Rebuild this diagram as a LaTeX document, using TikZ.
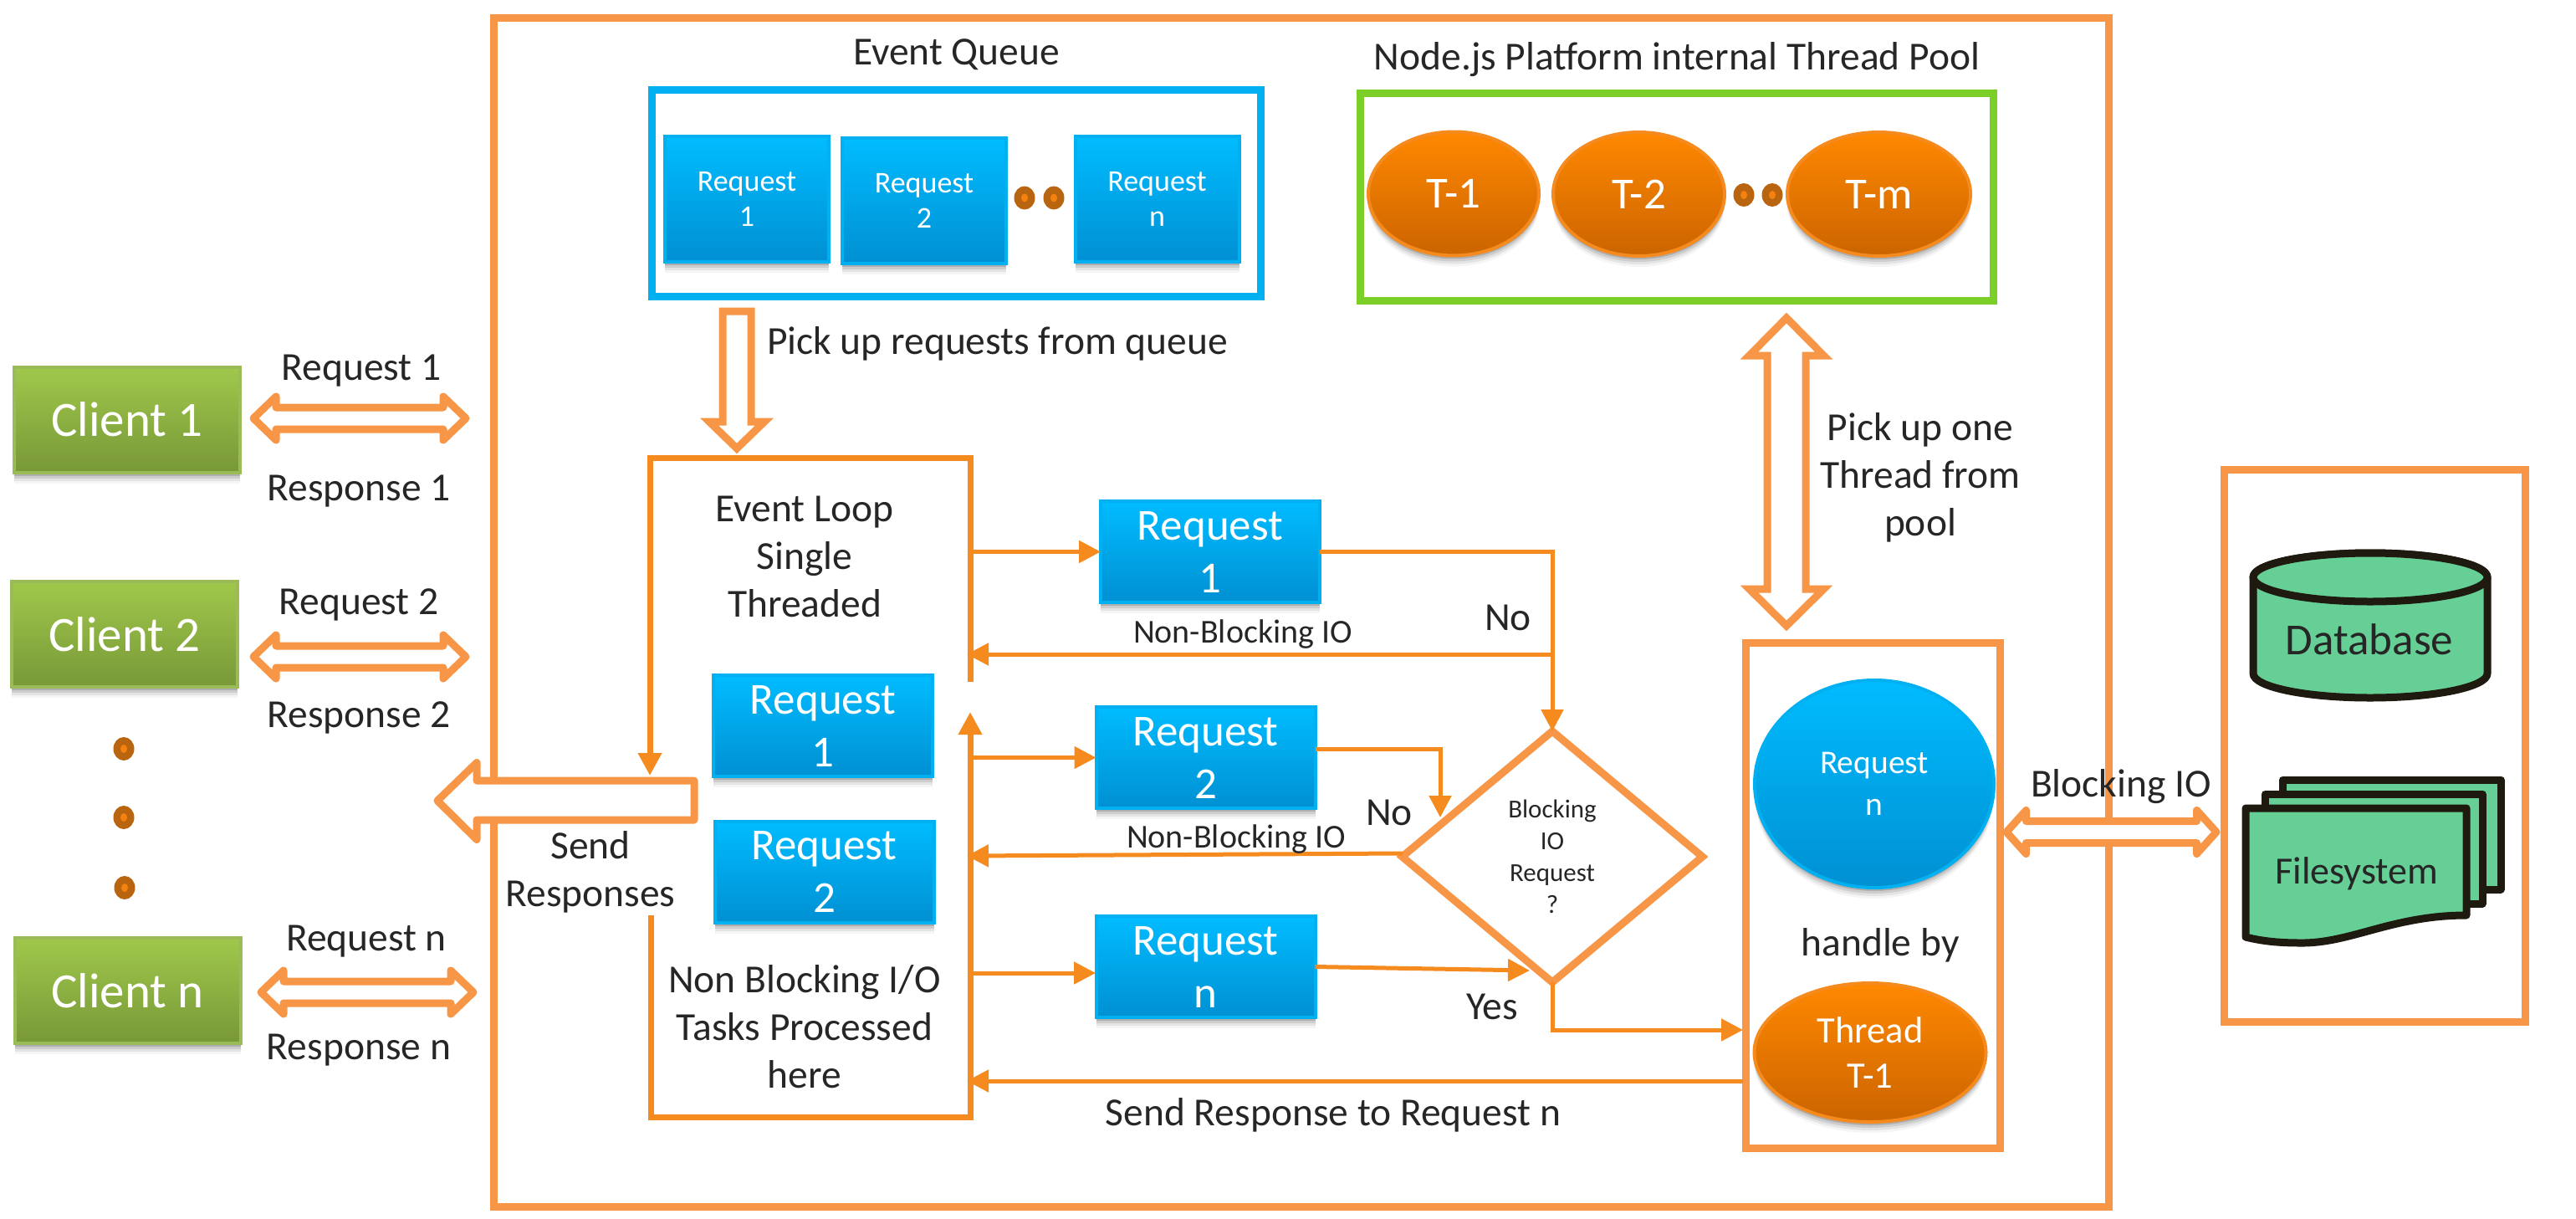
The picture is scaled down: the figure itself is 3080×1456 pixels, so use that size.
\documentclass[tikz,border=0pt]{standalone}
\usepackage{fontspec}
\setmainfont{Carlito}
\usetikzlibrary{arrows.meta,shapes.geometric,shadows}
\newcommand{\fsz}[2]{\fontsize{#1}{#2}\selectfont}
\definecolor{softorange}{HTML}{F79646}
\definecolor{strongorange}{HTML}{F58A1F}
\definecolor{qblue}{HTML}{00B0F0}
\definecolor{poolgreen}{HTML}{7CCF26}
\definecolor{inktext}{HTML}{262626}
\definecolor{brownd}{HTML}{B9640F}
\definecolor{innerd}{HTML}{F5820F}
\definecolor{dbgreen}{HTML}{66CF95}
\definecolor{dbdark}{HTML}{1F1A0F}
\definecolor{qtop}{HTML}{00BCFF}
\definecolor{qbot}{HTML}{0090D2}
\definecolor{clientt}{HTML}{A0C84B}
\definecolor{clientl}{HTML}{789838}
\definecolor{clientb}{HTML}{9BBB59}
\definecolor{orgt}{HTML}{FF8800}
\definecolor{orgb}{HTML}{CB6400}
\tikzset{
  softshadow/.style={
    drop shadow={shadow xshift=0pt,shadow yshift=-13pt,opacity=.04,fill=black},
    drop shadow={shadow xshift=0pt,shadow yshift=-10pt,opacity=.07,fill=black},
    drop shadow={shadow xshift=0pt,shadow yshift=-7pt,opacity=.10,fill=black},
    drop shadow={shadow xshift=0pt,shadow yshift=-4pt,opacity=.15,fill=black}},
  base/.style={outer sep=0pt,inner sep=0pt,align=center},
  lab/.style={base,text=inktext,font=\fsz{47.5}{57}},
  labs/.style={lab,yshift=-2.5pt},
  frame/.style={base,draw=softorange,line width=9pt,rectangle},
  blueg/.style={base,text=white,draw=qblue,line width=4pt,top color=qtop,bottom color=qbot,softshadow},
  reqsmall/.style={blueg,rectangle,minimum width=196pt,minimum height=150pt,font=\fsz{36}{42}},
  reqbig/.style={blueg,rectangle,minimum width=262pt,minimum height=121pt,font=\fsz{53}{63}},
  clientbox/.style={base,rectangle,text=white,draw=clientb,line width=4pt,top color=clientt,bottom color=clientl,
    minimum width=270pt,minimum height=126pt,font=\fsz{59}{70},softshadow},
  orangeell/.style={base,ellipse,text=white,draw=strongorange,line width=4pt,top color=orgt,bottom color=orgb,softshadow},
  threadell/.style={orangeell,minimum height=148pt,font=\fsz{53}{63}},
  ddot/.style={base,ellipse,fill=brownd,minimum width=25pt,minimum height=28pt,
    path picture={\fill[innerd] (path picture bounding box.center) ellipse [x radius=4pt,y radius=5pt];}},
  hollow/.style={draw=softorange,fill=white,line width=9pt,line join=round},
  hollowsharp/.style={draw=softorange,fill=white,line width=9pt,line join=miter},
  clientarrow/.pic={
    \draw[hollow] (-127,0) -- (-100,-26) -- (-100,-13) -- (100,-13) -- (100,-26) -- (127,0)
      -- (100,26) -- (100,13) -- (-100,13) -- (-100,26) -- cycle;},
  ioarrow/.pic={
    \draw[hollow] (-125.5,0) -- (-102,-26) -- (-102,-13) -- (102,-13) -- (102,-26) -- (125.5,0)
      -- (102,26) -- (102,13) -- (-102,13) -- (-102,26) -- cycle;},
  flow/.style={draw=strongorange,line width=5pt,-{Triangle[width=26pt,length=26pt]}},
  loopline/.style={draw=strongorange,line width=7pt},
  dbline/.style={draw=dbdark,line width=9pt,fill=dbgreen,line join=round},
}
\begin{document}
\begin{tikzpicture}[x=1pt,y=-1pt]
\useasboundingbox (0,0) rectangle (3080,1456);
% outer frames
\node[frame,minimum width=1931pt,minimum height=1421pt] (outer) at (1555.5,731.5) {};
\node[frame,minimum width=304pt,minimum height=604pt] (threadbox) at (2239,1070) {};
\node[frame,minimum width=360pt,minimum height=660pt] (storebox) at (2839,891) {};
\node[base,rectangle,draw=qblue,line width=9pt,minimum width=728pt,minimum height=247pt] (queue) at (1143,231) {};
\node[base,rectangle,draw=poolgreen,line width=9pt,minimum width=757pt,minimum height=248pt] (pool) at (2005,235) {};
% titles
\node[labs] (queuetitle) at (1143.5,63) {Event Queue};
\node[labs] (pooltitle) at (2005,69) {Node.js Platform internal Thread Pool};
% queue
\node[reqsmall] (q1) at (893,238) {Request\\1};
\node[reqsmall] (q2) at (1105,239.5) {Request\\2};
\node[reqsmall] (qn) at (1383.5,238) {Request\\n};
\node[ddot] (qd1) at (1225,236.5) {};
\node[ddot] (qd2) at (1260,236.5) {};
% thread pool
\node[threadell,minimum width=204pt] (t1) at (1738,231.5) {T-1};
\node[threadell,minimum width=205pt] (t2) at (1959.5,232) {T-2};
\node[threadell,minimum width=219pt] (tm) at (2246.5,232) {T-m};
\node[ddot] (td1) at (2085,233) {};
\node[ddot] (td2) at (2119,233) {};
% clients
\node[clientbox] (c1) at (152,501.5) {Client 1};
\node[clientbox] (c2) at (149,758) {Client 2};
\node[clientbox] (cn) at (152.5,1184) {Client n};
\node[ddot] (cd1) at (148,895) {};
\node[ddot] (cd2) at (148,977) {};
\node[ddot] (cd3) at (149,1061) {};
\pic at (430,500) {clientarrow};
\pic at (430,785) {clientarrow};
\pic at (439,1186) {clientarrow};
\node[labs] (req1) at (432,441) {Request 1};
\node[labs] (res1) at (429,585) {Response 1};
\node[labs] (req2) at (429,720) {Request 2};
\node[labs] (res2) at (429,855) {Response 2};
\node[labs] (reqn) at (438,1123) {Request n};
\node[labs] (resn) at (429,1253) {Response n};
% fat arrows
\draw[hollow] (830,933) -- (570,933) -- (570,911.5) -- (523,957) -- (570,1003.5) -- (570,980) -- (830,980) -- cycle;
\node[labs] (sendlab) at (706,1040) {Send\\Responses};
\draw[hollowsharp] (864,372) -- (898,372) -- (898,504) -- (914,504) -- (881,536) -- (848,504) -- (864,504) -- cycle;
\node[labs,anchor=west] (picklab) at (917,408) {Pick up requests from queue};
\draw[hollowsharp] (2136,380) -- (2180.5,425) -- (2159,425) -- (2159,704) -- (2180.5,704) -- (2136,748)
  -- (2091.5,704) -- (2113,704) -- (2113,425) -- (2091.5,425) -- cycle;
\node[labs] (poollab) at (2296,568) {Pick up one\\Thread from\\pool};
\pic at (2524.5,994.5) {ioarrow};
\node[labs] (iolab) at (2536,938) {Blocking IO};
% event loop
\coordinate (lgapt) at (1160,815);
\coordinate (ltr) at (1160,547);
\coordinate (ltl) at (777,547);
\coordinate (larr) at (777,927);
\coordinate (lgapb) at (1160,851);
\coordinate (lbr) at (1160,1335);
\coordinate (lbl) at (778,1335);
\coordinate (llow) at (778,1094);
\draw[loopline,line join=miter] (lgapt) -- (ltr) -- (ltl);
\draw[loopline,line join=miter,-{Triangle[width=27pt,length=27pt]}] (ltr) -- (ltl) -- (larr);
\draw[loopline,line join=miter,{Triangle[width=27pt,length=27pt]}-] (lgapb) -- (lbr) -- (lbl) -- (llow);
\node[lab,yshift=-1pt] (looplab) at (962,664) {Event Loop\\Single\\Threaded};
\node[lab] (nblab) at (962,1227) {Non Blocking I/O\\Tasks Processed\\here};
\node[reqbig] (l1) at (984,867.5) {Request\\1};
\node[reqbig] (l2) at (985.5,1042) {Request\\2};
% middle column
\node[reqbig] (m1) at (1447,659.5) {Request\\1};
\node[reqbig] (m2) at (1441.5,905.5) {Request\\2};
\node[reqbig] (mn) at (1441.5,1155.5) {Request\\n};
% diamond
\node[base,diamond,draw=softorange,line width=9pt,aspect=1.2,minimum width=359pt,minimum height=300pt,
  font=\fsz{31}{38},text=inktext] (dia) at (1856,1024) {Blocking\\IO\\Request\\?};
% thread box contents
\node[base,ellipse,text=white,draw=qblue,line width=4pt,top color=qtop,bottom color=qbot,softshadow,
  minimum width=286pt,minimum height=248pt,font=\fsz{39.5}{50}] (reqcircle) at (2241,937) {Request\\n};
\node[labs] (handle) at (2248,1127) {handle by};
\node[orangeell,minimum width=277pt,minimum height=166pt,font=\fsz{44.5}{53.5}] (thr) at (2236,1258) {Thread\\T-1};
% connectors
\coordinate (o1) at (1157,659.5);
\coordinate (o2) at (1157,905.5);
\coordinate (o3) at (1157,1163);
\coordinate (mid3) at (1310,1163);
\coordinate (back1) at (1156,782);
\coordinate (j1) at (1856,782);
\coordinate (m2out) at (1573,895);
\coordinate (d2in) at (1722,977);
\coordinate (back2) at (1156,1023);
\coordinate (diaw) at (1677,1020);
\coordinate (dyes) at (1829,1160);
\coordinate (thrin) at (2084,1231);
\coordinate (sendr) at (2084,1292);
\coordinate (back3) at (1156,1292);
\draw[flow] (o1) -- (m1.west);
\draw[flow] (o2) -- (m2.west);
\draw[flow] (o3) -- (mid3);
\draw[flow] (m1.east) -| (dia.north);
\draw[flow] (j1) -- (back1);
\draw[flow] (m2out) -| (d2in);
\draw[flow] (diaw) -- (back2);
\draw[flow] (mn.east) -- (dyes);
\draw[flow] (dia.south) |- (thrin);
\draw[flow] (sendr) -- (back3);
% connector labels
\node[lab,font=\fsz{40}{48}] (nb1) at (1486,758) {Non-Blocking IO};
\node[lab,font=\fsz{40}{48}] (nb2) at (1478,1003) {Non-Blocking IO};
\node[lab] (no1) at (1803,738) {No};
\node[lab] (no2) at (1661,971) {No};
\node[lab] (yes) at (1784,1203) {Yes};
\node[labs] (sendn) at (1594,1330) {Send Response to Request n};
% storage
\draw[dbline] (2694,690) -- (2694,805) arc[start angle=180,end angle=360,x radius=140pt,y radius=29pt] -- (2974,690) arc[start angle=0,end angle=180,x radius=140pt,y radius=29pt] -- cycle;
\draw[dbline] (2834,690) ellipse [x radius=140pt,y radius=29pt];
\node[base,text=inktext,font=\fsz{53}{63}] (dbtext) at (2833,764) {Database};
\draw[dbline] (2729,932) -- (2990,932) -- (2990,1063) -- (2729,1063) -- cycle;
\draw[dbline] (2708,949) -- (2968,949) -- (2968,1080) -- (2708,1080) -- cycle;
\draw[dbline] (2685,966) -- (2949,966) -- (2949,1094) .. controls (2860,1094) and (2810,1128) .. (2750,1127) .. controls (2725,1127) and (2705,1125) .. (2685,1120) -- cycle;
\node[base,text=inktext,font=\fsz{46}{55}] (fstext) at (2818,1044) {Filesystem};
\end{tikzpicture}
\end{document}
